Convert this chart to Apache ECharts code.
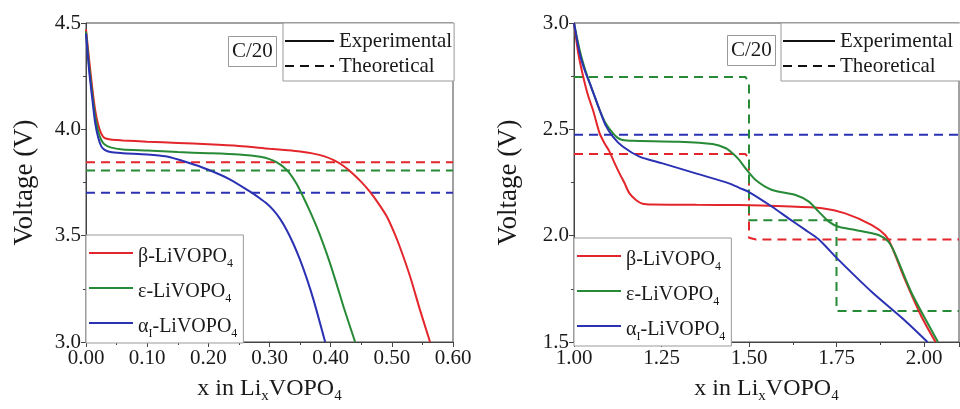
<!DOCTYPE html>
<html>
<head>
<meta charset="utf-8">
<script src="https://cdn.jsdelivr.net/npm/echarts@6/dist/echarts.min.js"></script>
<style>
html, body { margin: 0; padding: 0; background: #fff; }
#main { width: 960px; height: 409px; }
</style>
</head>
<body>
<div id="main"></div>
<script>
////////////////////////////////////
// left panel: charge, x in LixVOPO4 from 0 to 0.6
let betaCharge = [[0, 4.47], [0.005, 4.33], [0.01, 4.2], [0.015, 4.09], [0.02, 4.02], [0.025, 3.98], [0.03, 3.96], [0.04, 3.952], [0.06, 3.948], [0.1, 3.942], [0.15, 3.936], [0.2, 3.93], [0.25, 3.922], [0.3, 3.909], [0.33, 3.902], [0.35, 3.896], [0.37, 3.887], [0.39, 3.873], [0.405, 3.855], [0.42, 3.83], [0.435, 3.795], [0.45, 3.753], [0.464, 3.707], [0.478, 3.652], [0.492, 3.589], [0.503, 3.52], [0.513, 3.448], [0.53, 3.307], [0.546, 3.151], [0.5625, 3.0]];
let epsCharge = [[0, 4.46], [0.005, 4.3], [0.01, 4.17], [0.015, 4.06], [0.02, 3.99], [0.025, 3.95], [0.03, 3.93], [0.04, 3.915], [0.06, 3.905], [0.1, 3.9], [0.15, 3.893], [0.2, 3.888], [0.25, 3.882], [0.27, 3.877], [0.285, 3.871], [0.3, 3.86], [0.312, 3.845], [0.322, 3.825], [0.333, 3.793], [0.344, 3.745], [0.355, 3.683], [0.366, 3.615], [0.377, 3.542], [0.388, 3.46], [0.399, 3.37], [0.41, 3.27], [0.421, 3.166], [0.44, 3.0]];
let alphaCharge = [[0, 4.45], [0.005, 4.28], [0.01, 4.15], [0.015, 4.03], [0.02, 3.96], [0.025, 3.92], [0.03, 3.905], [0.04, 3.893], [0.06, 3.888], [0.1, 3.882], [0.13, 3.873], [0.165, 3.845], [0.2, 3.81], [0.235, 3.765], [0.271, 3.702], [0.284, 3.676], [0.295, 3.652], [0.306, 3.621], [0.317, 3.58], [0.328, 3.527], [0.339, 3.462], [0.35, 3.386], [0.361, 3.298], [0.372, 3.198], [0.391, 3.0]];
// theoretical voltages (V), flat over the whole range
let betaChargeTheo = [[0, 3.845], [0.6, 3.845]];
let epsChargeTheo = [[0, 3.807], [0.6, 3.807]];
let alphaChargeTheo = [[0, 3.702], [0.6, 3.702]];

////////////////////////////////////
// right panel: discharge, x in LixVOPO4 from 1 to 2.1
let betaDis = [[1.0, 3.0], [1.013, 2.85], [1.026, 2.75], [1.04, 2.66], [1.054, 2.592], [1.073, 2.482], [1.087, 2.435], [1.1, 2.4], [1.115, 2.345], [1.13, 2.293], [1.145, 2.245], [1.158, 2.2], [1.177, 2.168], [1.196, 2.15], [1.225, 2.146], [1.35, 2.145], [1.472, 2.144], [1.6, 2.138], [1.709, 2.129], [1.775, 2.105], [1.851, 2.05], [1.889, 2.003], [1.908, 1.948], [1.946, 1.792], [1.993, 1.619], [2.033, 1.5]];
let epsDis = [[1.0, 3.0], [1.016, 2.874], [1.03, 2.79], [1.045, 2.717], [1.06, 2.65], [1.073, 2.592], [1.09, 2.53], [1.111, 2.482], [1.125, 2.46], [1.139, 2.45], [1.168, 2.446], [1.3, 2.442], [1.396, 2.431], [1.434, 2.411], [1.453, 2.387], [1.472, 2.356], [1.49, 2.317], [1.519, 2.262], [1.566, 2.215], [1.633, 2.191], [1.671, 2.16], [1.699, 2.113], [1.728, 2.066], [1.756, 2.042], [1.804, 2.027], [1.87, 2.003], [1.898, 1.972], [1.917, 1.917], [1.965, 1.729], [2.04, 1.5]];
let alphaDis = [[1.0, 3.0], [1.016, 2.859], [1.03, 2.78], [1.045, 2.717], [1.06, 2.65], [1.073, 2.592], [1.09, 2.52], [1.111, 2.466], [1.139, 2.419], [1.187, 2.372], [1.253, 2.34], [1.348, 2.293], [1.443, 2.246], [1.472, 2.225], [1.5, 2.205], [1.566, 2.136], [1.614, 2.08], [1.661, 2.027], [1.699, 1.983], [1.756, 1.886], [1.851, 1.735], [1.946, 1.6], [2.01, 1.5]];
let betaDisTheo = [[1.0, 2.384], [1.49, 2.384], [1.5, 2.36], [1.5, 1.99], [1.52, 1.982], [2.1, 1.982]];
let epsDisTheo = [[1.0, 2.746], [1.49, 2.746], [1.5, 2.72], [1.5, 2.073], [1.75, 2.073], [1.75, 1.646], [2.1, 1.646]];
let alphaDisTheo = [[1.0, 2.474], [2.1, 2.474]];

// axis ranges and tick steps
let xLeft = { min: 0, max: 0.6, step: 0.1 };
let xRight = { min: 1.0, max: 2.1, step: 0.25 };
let yLeft = { min: 3.0, max: 4.5, step: 0.5 };
let yRight = { min: 1.5, max: 3.0, step: 0.5 };

let names = ['β-LiVOPO4', 'ε-LiVOPO4', 'αI-LiVOPO4'];
let labels = { // 图例里的下标
    'β-LiVOPO4': 'β-LiVOPO{s|4}',
    'ε-LiVOPO4': 'ε-LiVOPO{s|4}',
    'αI-LiVOPO4': 'α{s|I}-LiVOPO{s|4}'
};
let colors = ['#e3262b', '#278a36', '#2b31b3'];

/////////////////////////////////////////////////////////////////////////////////////////////////
let serif = "'Liberation Serif', 'DejaVu Serif', serif";
let ink = '#1a1a1a';

function curve(name, data, color, idx, dashed) {
    return {
        name: name,
        type: 'line',
        xAxisIndex: idx,
        yAxisIndex: idx,
        data: data,
        symbol: 'none',
        smooth: dashed ? false : 0.25,
        silent: true,
        z: dashed ? 2 : 3,
        lineStyle: { color: color, width: 2, type: dashed ? [9, 6] : 'solid' },
        itemStyle: { color: color }
    };
}

function xAxis(r, idx) {
    return {
        type: 'value', gridIndex: idx, min: r.min, max: r.max, interval: r.step,
        name: 'x in Li{s|x}VOPO{s|4}', nameLocation: 'middle', nameGap: 27,
        nameTextStyle: {
            fontFamily: serif, fontSize: 24, color: ink, lineHeight: 30,
            rich: { s: { fontFamily: serif, fontSize: 15, lineHeight: 15, color: ink, verticalAlign: 'bottom' } }
        },
        axisLine: { lineStyle: { color: '#444', width: 1 } },
        axisTick: { length: 5, lineStyle: { color: '#444' } },
        minorTick: { show: true, splitNumber: 2, length: 3, lineStyle: { color: '#444' } },
        splitLine: { show: false },
        axisLabel: {
            fontFamily: serif, fontSize: 21, color: ink, margin: 6, showMaxLabel: idx == 0,
            formatter: v => v.toFixed(2)
        }
    };
}

function yAxis(r, idx, gap) {
    return {
        type: 'value', gridIndex: idx, min: r.min, max: r.max, interval: r.step,
        name: 'Voltage (V)', nameLocation: 'middle', nameGap: gap,
        nameTextStyle: { fontFamily: serif, fontSize: 27, color: ink },
        axisLine: { lineStyle: { color: '#444', width: 1 } },
        axisTick: { length: 5, lineStyle: { color: '#444' } },
        minorTick: { show: true, splitNumber: 2, length: 3, lineStyle: { color: '#444' } },
        splitLine: { show: false },
        axisLabel: { fontFamily: serif, fontSize: 21, color: ink, margin: 5, formatter: v => v.toFixed(1) }
    };
}

function matLegend(left, top) {
    return {
        data: names, orient: 'vertical', left: left, top: top,
        padding: [1, 6, 3, 2], itemGap: 1, itemWidth: 44, itemHeight: 14,
        backgroundColor: '#fff', borderColor: '#999', borderWidth: 1,
        selectedMode: false,
        itemStyle: { opacity: 0 },
        formatter: n => labels[n],
        textStyle: {
            fontFamily: serif, fontSize: 20, color: ink, lineHeight: 26, padding: [8, 0, 0, 0],
            rich: { s: { fontFamily: serif, fontSize: 12, lineHeight: 12, color: ink, verticalAlign: 'bottom' } }
        }
    };
}

function typeLegend(left, w, padRight) {
    return {
        data: ['Experimental', 'Theoretical'], orient: 'vertical', left: left, top: 23,
        padding: [7, padRight, 4, 1], itemGap: 3, itemWidth: w, itemHeight: 10,
        backgroundColor: '#fff', borderColor: '#999', borderWidth: 1,
        selectedMode: false,
        itemStyle: { opacity: 0 },
        textStyle: { fontFamily: serif, fontSize: 21, color: ink, lineHeight: 22 }
    };
}

function rateBox(left, top) {
    return {
        text: 'C/20', left: left, top: top, padding: [5, 4],
        borderColor: '#999', borderWidth: 1, backgroundColor: '#fff',
        textStyle: { fontFamily: serif, fontSize: 21, fontWeight: 'normal', color: ink }
    };
}

let series = [
    curve(names[0] + ' theo L', betaChargeTheo, colors[0], 0, true),
    curve(names[1] + ' theo L', epsChargeTheo, colors[1], 0, true),
    curve(names[2] + ' theo L', alphaChargeTheo, colors[2], 0, true),
    curve(names[0], betaCharge, colors[0], 0, false),
    curve(names[1], epsCharge, colors[1], 0, false),
    curve(names[2], alphaCharge, colors[2], 0, false),
    curve(names[0] + ' theo R', betaDisTheo, colors[0], 1, true),
    curve(names[1] + ' theo R', epsDisTheo, colors[1], 1, true),
    curve(names[2] + ' theo R', alphaDisTheo, colors[2], 1, true),
    curve(names[0], betaDis, colors[0], 1, false),
    curve(names[1], epsDis, colors[1], 1, false),
    curve(names[2], alphaDis, colors[2], 1, false),
    // only for the line-style legend
    curve('Experimental', [], '#111', 0, false),
    curve('Theoretical', [], '#111', 0, true)
];

let chart = echarts.init(document.getElementById('main'));
chart.setOption({
    animation: false,
    backgroundColor: '#fff',
    title: [rateBox(228, 36), rateBox(727, 35)],
    grid: [
        { left: 86, right: 507, top: 23, bottom: 67, show: true, borderColor: '#444', borderWidth: 1 },
        { left: 574, right: 1, top: 23, bottom: 67, show: true, borderColor: '#444', borderWidth: 1 }
    ],
    legend: [
        matLegend(86, 235),
        matLegend(574, 238),
        typeLegend(283, 49, 2),
        typeLegend(781, 52, 8)
    ],
    xAxis: [xAxis(xLeft, 0), xAxis(xRight, 1)],
    yAxis: [yAxis(yLeft, 0, 48), yAxis(yRight, 1, 52)],
    series: series
});
</script>
</body>
</html>
